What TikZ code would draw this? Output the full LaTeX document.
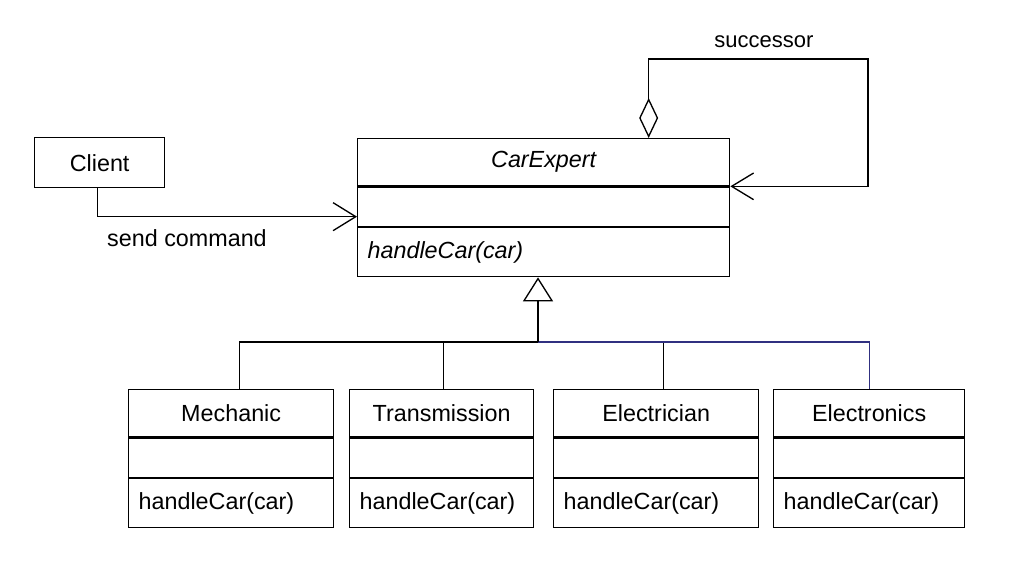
\documentclass[tikz,border=0pt]{standalone}
\usepackage{fontspec}
\setmainfont{Liberation Sans}
\usepackage{tikz}
\usetikzlibrary{positioning,calc,arrows.meta}

\begin{document}
\begin{tikzpicture}[x=0.75pt,y=0.75pt,yscale=-1,xscale=1,
    every node/.style={font=\fontsize{17.5}{21}\selectfont},
    classtitle/.style={draw, line width=1pt, minimum width=#1, minimum height=35.25pt, inner sep=0pt, anchor=north west},
    classattr/.style={draw, line width=1pt, minimum width=#1, minimum height=29.5pt, inner sep=0pt},
    classop/.style={draw, line width=1pt, text width=#1-15pt, inner xsep=7.5pt, inner ysep=0pt, minimum height=36.75pt, align=left},
    link/.style={line width=1pt},
    buslink/.style={line width=1pt, color={rgb, 255:red, 48; green, 48; blue, 128 }},
    inherit/.style={line width=1pt, -{Triangle[fill=white, length=18pt, width=22.5pt]}},
    assoc/.style={line width=1pt, -{Straight Barb[length=17pt, width=21pt]}},
    succ/.style={line width=1pt, {Diamond[fill=white, length=30pt, width=14.25pt]}-{Straight Barb[length=16.5pt, width=20pt]}}
  ]
  %set diagram size to 1034 x 582
  \useasboundingbox (0,0) rectangle (1034,582);

  %Shape: Class CarExpert
  \node[classtitle=279pt] (cetitle) at (357,138) {\itshape CarExpert};
  \node[classattr=279pt, below=0pt of cetitle] (ceattr) {};
  \node[classop=279pt, below=0pt of ceattr] (ceop) {\itshape handleCar(car)};

  %Shape: Class Client
  \node[draw, line width=1pt, minimum width=97.5pt, minimum height=37.5pt, inner sep=0pt, anchor=north west] (client) at (34,137) {Client};

  %Shape: Class Mechanic
  \node[classtitle=153.75pt] (mech) at (128,389) {Mechanic};
  \node[classattr=153.75pt, below=0pt of mech] (mechattr) {};
  \node[classop=153.75pt, below=0pt of mechattr] (mechop) {handleCar(car)};

  %Shape: Class Transmission
  \node[classtitle=138pt] (trans) at (349,389) {Transmission};
  \node[classattr=138pt, below=0pt of trans] (transattr) {};
  \node[classop=138pt, below=0pt of transattr] (transop) {handleCar(car)};

  %Shape: Class Electrician
  \node[classtitle=153.75pt] (elec) at (553,389) {Electrician};
  \node[classattr=153.75pt, below=0pt of elec] (elecattr) {};
  \node[classop=153.75pt, below=0pt of elecattr] (elecop) {handleCar(car)};

  %Shape: Class Electronics
  \node[classtitle=143.25pt] (elecs) at (773,389) {Electronics};
  \node[classattr=143.25pt, below=0pt of elecs] (elecsattr) {};
  \node[classop=143.25pt, below=0pt of elecsattr] (elecsop) {handleCar(car)};

  %Straight Lines: generalization
  \coordinate (genhub) at (538,342);
  \draw[link] ($(mech.north)+(8,0)$) |- (genhub);
  \draw[link] ($(trans.north)+(2,0)$) |- (genhub);
  \draw[link] ($(elec.north)+(7.5,0)$) |- (genhub);
  \draw[buslink] (genhub) -| (elecs.north);
  \draw[inherit] (genhub) -- (genhub |- ceop.south);

  %Straight Lines: send command
  \draw[assoc] ($(client.south)+(-2,0)$) |- ($(ceattr.west)+(0,10)$);

  %Straight Lines: successor
  \coordinate (succturn) at (868,59);
  \draw[succ] ($(cetitle.north)+(105,0)$) |- (succturn) |- (cetitle.south east);

  % Text Node
  \node (sendlbl) at (187,238) {send command};
  % Text Node
  \node[font=\fontsize{16.5}{20}\selectfont] (succlbl) at (764,42) {successor};

\end{tikzpicture}
\end{document}
